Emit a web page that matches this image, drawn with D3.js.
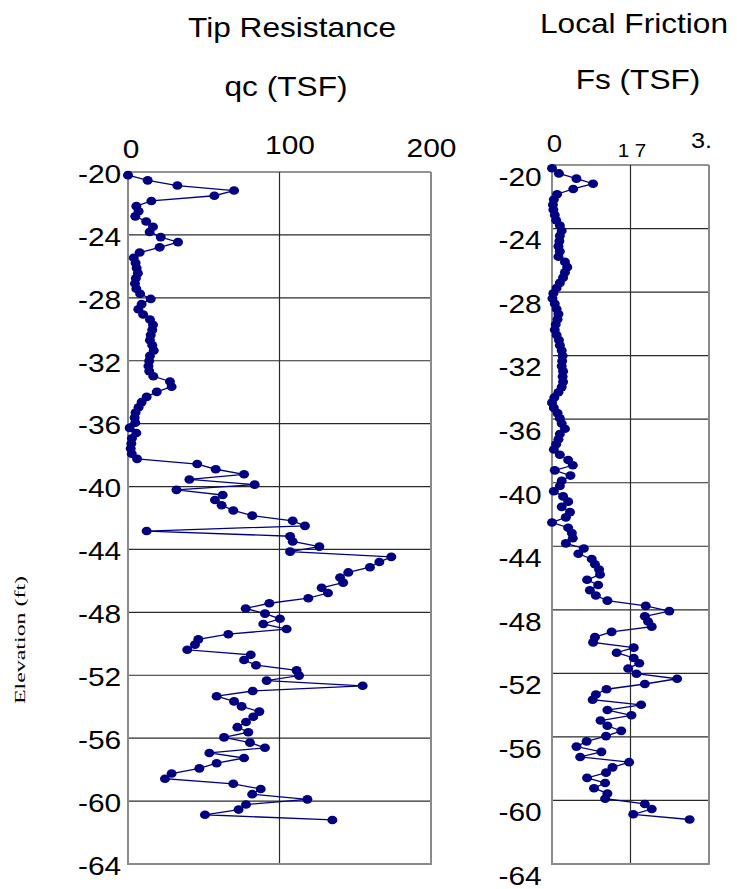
<!DOCTYPE html>
<html><head><meta charset="utf-8">
<script src="https://cdn.jsdelivr.net/npm/d3@7"></script>
<style>body{margin:0;background:#fff}svg{display:block}</style>
</head><body>
<svg id="chart" width="737" height="889"></svg>
<script>
const elevations = [
-20.20,-20.53,-20.86,-21.18,-21.51,-21.84,-22.17,-22.50,-22.82,-23.15,
-23.48,-23.81,-24.14,-24.46,-24.79,-25.12,-25.45,-25.78,-26.10,-26.43,
-26.76,-27.09,-27.42,-27.74,-28.07,-28.40,-28.73,-29.06,-29.38,-29.71,
-30.04,-30.37,-30.70,-31.02,-31.35,-31.68,-32.01,-32.34,-32.66,-32.99,
-33.32,-33.65,-33.98,-34.30,-34.63,-34.96,-35.29,-35.62,-35.94,-36.27,
-36.60,-36.93,-37.26,-37.58,-37.91,-38.24,-38.57,-38.90,-39.22,-39.55,
-39.88,-40.21,-40.54,-40.86,-41.19,-41.52,-41.85,-42.18,-42.50,-42.83,
-43.16,-43.49,-43.82,-44.14,-44.47,-44.80,-45.13,-45.46,-45.78,-46.11,
-46.44,-46.77,-47.10,-47.42,-47.75,-48.08,-48.41,-48.74,-49.06,-49.39,
-49.72,-50.05,-50.38,-50.70,-51.03,-51.36,-51.69,-52.02,-52.34,-52.67,
-53.00,-53.33,-53.66,-53.98,-54.31,-54.64,-54.97,-55.30,-55.62,-55.95,
-56.28,-56.61,-56.94,-57.26,-57.59,-57.92,-58.25,-58.58,-58.90,-59.23,
-59.56,-59.89,-60.22,-60.54,-60.87,-61.20];

const tipResistance = [
0,13,32.6,70,57,15.4,5.5,7,4.8,12,
16.5,14.3,21.6,33,20.9,7.7,3.8,5,5.7,6.5,
5.2,4.6,5.5,8,15,9,6.8,10,14.5,16.5,
16,15,14.5,16,17,14.5,14,13.5,14,16.7,
27.7,28.8,19,12.3,9,7,5,4.4,4.8,1.1,
5.5,2.6,2.2,1.8,2.5,6,45.7,57.9,76.6,40.5,
83.6,32,62.5,57.4,61.8,69.5,82,108.7,116.8,12.3,
107,108.7,126.3,107,173.8,165.9,159.7,145.4,140,142,
127.8,132,119,93.3,77.7,90.4,100.3,89.3,104.7,66.2,
46.4,44.2,39.1,81,76.6,84.5,111.3,112.9,91.5,154.9,
82.3,58.5,70,75,86.7,82.7,77.9,72.2,79.4,63.4,
80.5,90.4,53.7,76.6,58.5,47.1,28.8,24.4,69.5,87.6,
82,118.4,77.9,73,50.8,134.9];

const localFriction = [
0,0.15,0.53,0.89,0.46,0.11,0.04,0.02,0.03,0.06,
0.09,0.17,0.21,0.17,0.16,0.14,0.17,0.14,0.28,0.33,
0.28,0.24,0.17,0.1,0.03,0.01,0.06,0.1,0.14,0.12,
0.08,0.06,0.1,0.15,0.17,0.21,0.23,0.22,0.21,0.24,
0.23,0.24,0.21,0.14,0.05,0,0.04,0.12,0.17,0.21,
0.28,0.17,0.14,0.09,0.04,0.17,0.35,0.45,0.06,0.4,
0.21,0.17,0.04,0.24,0.35,0.21,0.39,0.3,0,0.35,
0.43,0.45,0.3,0.69,0.57,0.86,0.93,1.02,1.04,0.76,
1.0,0.82,0.95,1.2,2.03,2.54,2.01,2.08,2.16,1.29,
0.93,0.89,1.77,1.4,1.77,1.89,1.65,1.83,2.71,2.01,
1.18,0.95,0.88,1.93,1.2,1.72,1.05,1.2,1.5,1.17,
0.75,0.53,1.07,0.61,1.67,1.31,1.17,0.76,1.15,0.91,
1.2,1.15,2.01,2.16,1.76,2.98];

const elevationTicks = [-20,-24,-28,-32,-36,-40,-44,-48,-52,-56,-60,-64];
const tipTicks = [0,100,200];
const tipTickLabels = ["0","100","200"];
const frictionTicks = [0,1.7,3.4];
const frictionTickLabels = ["0","1 7","3."];

const svg = d3.select("#chart");
const SANS = "'Liberation Sans', Arial, sans-serif";
const NAVY = "#000080";
const STRETCH = 1.15;

function panel(cfg) {
  const x = d3.scaleLinear().domain(cfg.xDomain).range([cfg.x0, cfg.x1]);
  const y = d3.scaleLinear().domain([-20, -64]).range([cfg.y0, cfg.y1]);
  const g = svg.append("g");

  // horizontal gridlines
  g.append("g").selectAll("line").data(elevationTicks.slice(0, -1)).join("line")
    .attr("x1", cfg.x0).attr("x2", cfg.x1)
    .attr("y1", d => y(d)).attr("y2", d => y(d))
    .attr("stroke", "#2a2a2a").attr("stroke-width", 1.2);
  // vertical middle gridline
  g.append("line")
    .attr("x1", x(cfg.ticks[1])).attr("x2", x(cfg.ticks[1]))
    .attr("y1", cfg.y0).attr("y2", cfg.y1)
    .attr("stroke", "#2a2a2a").attr("stroke-width", 1.2);
  // frame (left, right, bottom) in grey
  g.append("path")
    .attr("d", `M${cfg.x0},${cfg.y0}V${cfg.y1}H${cfg.x1}V${cfg.y0}`)
    .attr("fill", "none").attr("stroke", "#8a8a8a").attr("stroke-width", 2);

  // y axis labels
  const yAxis = d3.axisLeft(y).tickValues(elevationTicks).tickSize(0).tickPadding(cfg.yPad)
    .tickFormat(d => String(d));
  const ya = g.append("g").attr("transform", `translate(${cfg.x0},0)`).call(yAxis);
  ya.select(".domain").remove();
  ya.selectAll("text")
    .attr("font-family", SANS).attr("font-size", 26).attr("fill", "#000")
    .attr("transform", `translate(0,${cfg.yShift}) scale(${STRETCH},1)`);

  // top axis labels
  const xAxis = d3.axisTop(x).tickValues(cfg.ticks).tickSize(0).tickPadding(0)
    .tickFormat((d, i) => cfg.tickLabels[i]);
  const xa = g.append("g").attr("transform", `translate(0,${cfg.y0})`).call(xAxis);
  xa.select(".domain").remove();
  xa.selectAll("text")
    .attr("font-family", SANS).attr("fill", "#000")
    .attr("font-size", (d, i) => cfg.tickSizes[i])
    .attr("dy", 0)
    .attr("y", (d, i) => cfg.tickBase[i] - cfg.y0)
    .attr("transform", (d, i) => `translate(${cfg.tickDx[i]},0) scale(${STRETCH},1)`);

  // line + markers
  const pts = cfg.values.map((v, i) => [v, elevations[i]]);
  g.append("path").datum(pts)
    .attr("d", d3.line().x(d => x(d[0])).y(d => y(d[1])))
    .attr("fill", "none").attr("stroke", NAVY).attr("stroke-width", 1.3);
  g.append("g").selectAll("ellipse").data(pts).join("ellipse")
    .attr("cx", d => x(d[0])).attr("cy", d => y(d[1]))
    .attr("rx", 5).attr("ry", 4.3).attr("fill", NAVY);

  // titles
  cfg.titles.forEach(t => {
    svg.append("text").attr("x", 0).attr("y", 0)
      .attr("transform", `translate(${t.cx},${t.base}) scale(1.13,1)`)
      .attr("text-anchor", "middle").attr("font-family", SANS).attr("font-size", 28)
      .attr("fill", "#000").text(t.text);
  });
}

panel({
  xDomain: [0, 200], x0: 128, x1: 431, y0: 172, y1: 864,
  values: tipResistance, ticks: tipTicks, tickLabels: tipTickLabels,
  tickSizes: [26, 26, 26], tickBase: [158, 154, 157], tickDx: [2.5, 10, 0],
  yPad: 6, yShift: 2,
  titles: [{text: "Tip Resistance", cx: 292, base: 37}, {text: "qc (TSF)", cx: 286, base: 96}]
});

panel({
  xDomain: [0, 3.4], x0: 552, x1: 709, y0: 165, y1: 864,
  values: localFriction, ticks: frictionTicks, tickLabels: frictionTickLabels,
  tickSizes: [24, 18, 22], tickBase: [152, 157, 148], tickDx: [2, 1, -8],
  yPad: 9, yShift: 12,
  titles: [{text: "Local Friction", cx: 634, base: 33}, {text: "Fs (TSF)", cx: 638, base: 89}]
});

svg.append("text")
  .attr("transform", "translate(25,640) rotate(-90)")
  .attr("text-anchor", "middle")
  .attr("font-family", "'Liberation Serif', 'Times New Roman', serif")
  .attr("font-size", 15).attr("fill", "#000")
  .attr("textLength", 128).attr("lengthAdjust", "spacingAndGlyphs")
  .text("Elevation (ft)");
</script>
</body></html>
